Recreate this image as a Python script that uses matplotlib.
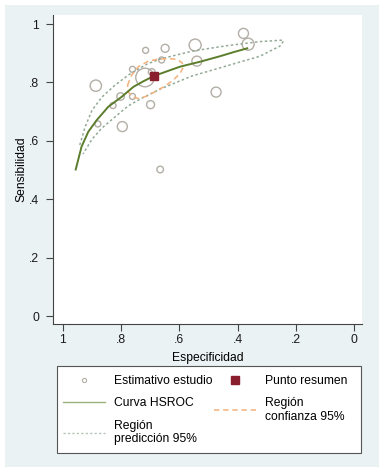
import matplotlib
matplotlib.use("Agg")
import matplotlib.pyplot as plt
from matplotlib.lines import Line2D
from matplotlib.patches import Rectangle

plt.rcParams['font.family'] = ['Liberation Sans', 'DejaVu Sans']
plt.rcParams['font.size'] = 8.7

# estimativos de cada estudio (especificidad, sensibilidad, peso)
esp_estudio = [0.887, 0.880, 0.828, 0.802, 0.761, 0.796, 0.761, 0.716, 0.649, 0.661,
               0.718, 0.695, 0.699, 0.666, 0.546, 0.540, 0.474, 0.380, 0.364]
sen_estudio = [0.789, 0.658, 0.721, 0.752, 0.752, 0.649, 0.845, 0.910, 0.917, 0.877,
               0.817, 0.836, 0.724, 0.502, 0.928, 0.873, 0.767, 0.968, 0.931]
peso_estudio = [32, 9, 9, 14, 9, 25, 9, 9, 16, 9,
                86, 11, 16, 11, 36, 25, 25, 25, 36]

# punto resumen
esp_resumen = [0.687]
sen_resumen = [0.822]

# curva HSROC
hsroc_esp = [0.956, 0.936, 0.913, 0.884, 0.844, 0.798, 0.758, 0.720, 0.688, 0.632,
             0.598, 0.529, 0.460, 0.410, 0.367]
hsroc_sen = [0.502, 0.580, 0.631, 0.671, 0.717, 0.751, 0.785, 0.806, 0.822, 0.842,
             0.854, 0.871, 0.890, 0.905, 0.917]

# region de confianza 95%
conf_esp = [0.778, 0.764, 0.741, 0.707, 0.672, 0.638, 0.609, 0.590, 0.587, 0.598,
            0.621, 0.649, 0.684, 0.712, 0.741, 0.762, 0.776, 0.778]
conf_sen = [0.791, 0.825, 0.854, 0.873, 0.880, 0.882, 0.879, 0.867, 0.851, 0.831,
            0.808, 0.788, 0.768, 0.753, 0.745, 0.751, 0.768, 0.791]

# region de prediccion 95% (rama superior y luego inferior)
pred_esp = [0.942, 0.924, 0.900, 0.866, 0.821, 0.770, 0.711, 0.667, 0.553, 0.436, 0.323, 0.244,
            0.244, 0.254, 0.323, 0.440, 0.557, 0.667, 0.735, 0.777, 0.821, 0.866, 0.900, 0.931]
pred_sen = [0.586, 0.647, 0.705, 0.750, 0.791, 0.829, 0.863, 0.880, 0.908, 0.926, 0.940, 0.945,
            0.940, 0.925, 0.890, 0.856, 0.822, 0.777, 0.743, 0.719, 0.682, 0.644, 0.606, 0.555]

c_est = '#b3aea6'
c_curva = '#5b7d2c'
c_conf = '#f4b07a'
c_pred = '#92aa96'
c_res = '#8b1e2d'

fig = plt.figure(figsize=(3.87, 4.75), dpi=100)
fig.patch.set_facecolor('white')
# fondo del grafico y marco de la leyenda
fig.patches.append(Rectangle((5/387, 1-467/475), 374/387, 462/475,
                             transform=fig.transFigure, facecolor='#eaf2f3',
                             edgecolor='none', zorder=-10))
fig.patches.append(Rectangle((57/387, 1-453/475), 304/387, 87/475,
                             transform=fig.transFigure, facecolor='white',
                             edgecolor='#555555', lw=0.8, zorder=-5))

ax = fig.add_axes([53/387, 1-324/475, 309/387, 309/475])
ax.set_facecolor('white')

ax.scatter(esp_estudio, sen_estudio, s=[2.07*p for p in peso_estudio],
           facecolors='none', edgecolors=c_est, linewidths=1.0, zorder=2)
ax.plot(pred_esp, pred_sen, color=c_pred, lw=1.1, dashes=(1.6, 1.6), zorder=3)
ax.plot(conf_esp, conf_sen, color=c_conf, lw=1.1, dashes=(3.5, 2.5), zorder=3)
ax.plot(hsroc_esp, hsroc_sen, color=c_curva, lw=1.4, zorder=4)
ax.plot(esp_resumen, sen_resumen, 's', color=c_res, ms=6, zorder=5)

ax.set_xlim(1.034, -0.027)
ax.set_ylim(-0.027, 1.031)
ticks = [0, 0.2, 0.4, 0.6, 0.8, 1]
tick_lab = ['0', '.2', '.4', '.6', '.8', '1']
ax.set_xticks(ticks)
ax.set_xticklabels(tick_lab)
ax.set_yticks(ticks)
ax.set_yticklabels(tick_lab)
ax.tick_params(direction='out', length=5, width=0.8, color='#444444', labelcolor='#1a1a1a')
ax.tick_params(axis='y', pad=5)
ax.tick_params(axis='x', pad=2.5)
for s in ['top', 'right']:
    ax.spines[s].set_visible(False)
for s in ['left', 'bottom']:
    ax.spines[s].set_color('#444444')
    ax.spines[s].set_linewidth(0.8)

ax.set_xlabel('Especificidad', labelpad=4)
ax.set_ylabel('Sensibilidad', labelpad=1.5)

handles = [
    Line2D([], [], ls='none', marker='o', ms=3, mfc='none', mec=c_est, mew=0.8),
    Line2D([], [], color=c_curva, lw=1.0, alpha=0.6),
    Line2D([], [], color=c_pred, lw=1.0, dashes=(1.6, 1.6), alpha=0.7),
    Line2D([], [], ls='none', marker='s', ms=6, color=c_res),
    Line2D([], [], color=c_conf, lw=1.1, dashes=(3.5, 2.5)),
]
labels = ['Estimativo estudio', 'Curva HSROC', 'Región\npredicción 95%',
          'Punto resumen', 'Región\nconfianza 95%']
leg = fig.legend(handles, labels, ncol=2, loc='upper left',
                 bbox_to_anchor=(63/387, 1-375/475), frameon=False,
                 handlelength=3.5, handletextpad=0.75, columnspacing=0.1,
                 labelspacing=0.85, borderpad=0, borderaxespad=0)

fig.savefig('out.png', dpi=100, facecolor='white')
